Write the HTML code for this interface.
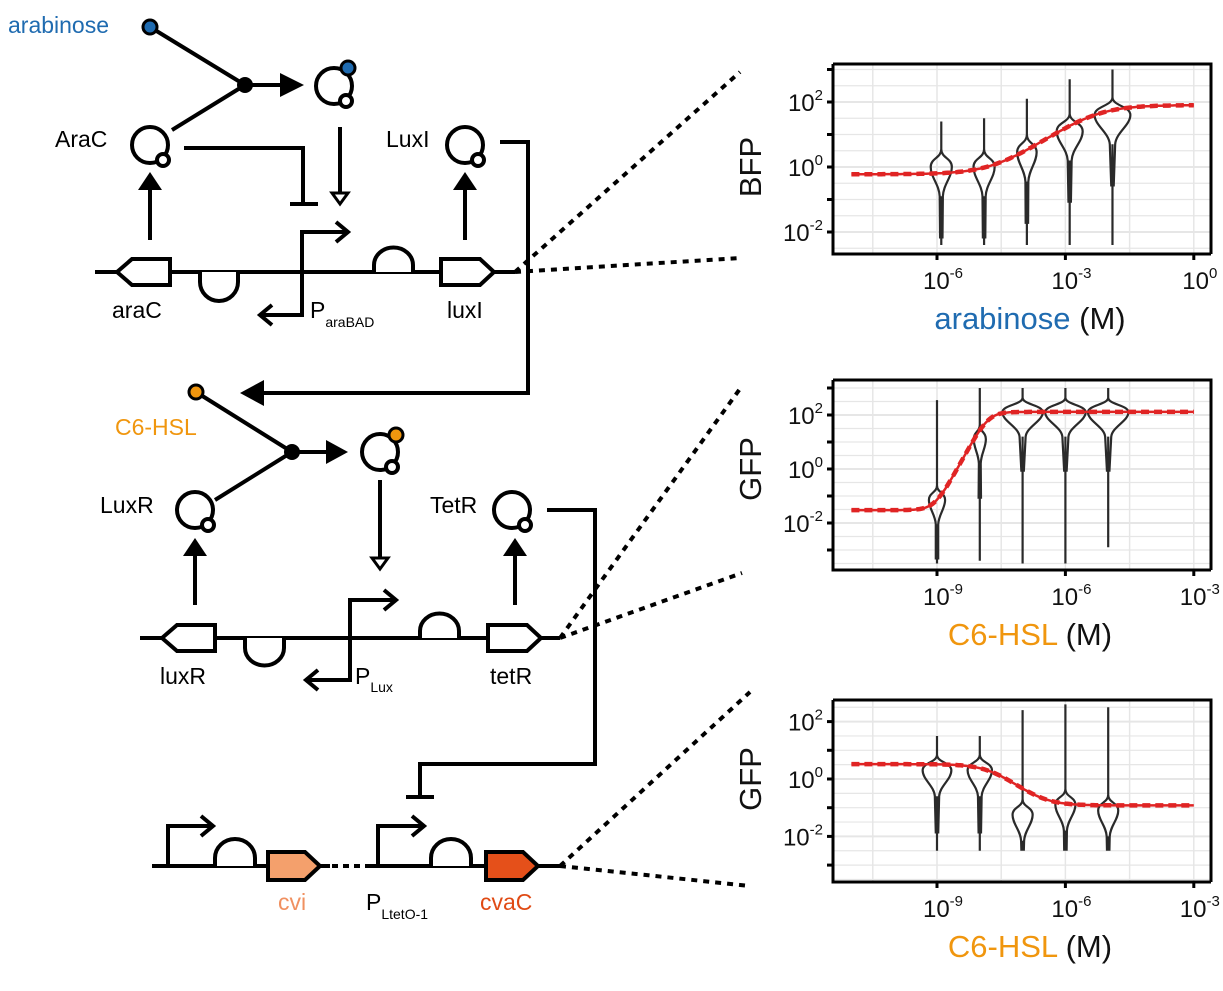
<!DOCTYPE html>
<html><head><meta charset="utf-8"><style>
html,body{margin:0;padding:0;background:#fff;}
svg{display:block;font-family:"Liberation Sans",Arial,sans-serif;}
</style></head><body>
<svg id="fig" width="1223" height="991" viewBox="0 0 1223 991">
<g stroke="#000" stroke-width="4" fill="none" stroke-linecap="butt">
 <text x="8" y="33" font-size="23" fill="#1f6bb0" stroke="none">arabinose</text>
 <line x1="150" y1="27" x2="245" y2="85"/>
 <line x1="172" y1="130" x2="245" y2="85"/>
 <circle cx="150" cy="27" r="7" fill="#1f6bb0" stroke-width="3"/>
 <circle cx="245" cy="85" r="8" fill="#000" stroke="none"/>
 <line x1="245" y1="85" x2="290" y2="85"/>
 <path d="M280,73 L304,85 L280,97 z" fill="#000" stroke="none"/>
 <g><circle cx="334" cy="86" r="18"/><circle cx="346" cy="101" r="6" fill="#fff"/><circle cx="348" cy="68" r="7" fill="#1f6bb0" stroke-width="3"/></g>
 <g><circle cx="150" cy="145" r="18"/><circle cx="163" cy="160" r="6" fill="#fff"/></g>
 <text x="55" y="147" font-size="23" fill="#000" stroke="none">AraC</text>
 <g><circle cx="465" cy="145" r="18"/><circle cx="478" cy="160" r="6" fill="#fff"/></g>
 <text x="386" y="147" font-size="23" fill="#000" stroke="none">LuxI</text>
 <line x1="150" y1="240" x2="150" y2="190"/>
 <path d="M138,190 L150,172 L162,190 z" fill="#000" stroke="none"/>
 <line x1="465" y1="240" x2="465" y2="190"/>
 <path d="M453,190 L465,172 L477,190 z" fill="#000" stroke="none"/>
 <path d="M184,148 L303,148 L303,204 M290,204 L318,204"/>
 <path d="M340,127 L340,193"/>
 <path d="M332,193 L348,193 L340,204 z" fill="#fff" stroke-width="3"/>
 <line x1="95" y1="272" x2="515" y2="272"/>
 <path d="M170,259 L132,259 L117,272 L132,285 L170,285 z" fill="#fff"/>
 <path d="M200,272 L200,282 A14,14 0 0 0 238,282 L238,272" fill="#fff"/>
 <path d="M302,272 L302,232 L345,232"/>
 <path d="M336,222 L348,232 L336,242"/>
 <path d="M302,272 L302,315 L262,315 M272,305 L260,315 L272,325"/>
 <path d="M374,272 L374,265 A19,17 0 0 1 413,265 L413,272" fill="#fff"/>
 <path d="M441,259 L480,259 L494,272 L480,285 L441,285 z" fill="#fff"/>
 <text x="112" y="318" font-size="23" fill="#000" stroke="none">araC</text>
 <text x="310" y="318" font-size="23" fill="#000" stroke="none">P<tspan font-size="14" dy="9">araBAD</tspan></text>
 <text x="447" y="318" font-size="23" fill="#000" stroke="none">luxI</text>
 <path d="M500,142 L528,142 L528,393 L262,393"/>
 <path d="M264,380 L240,393 L264,406 z" fill="#000" stroke="none"/>
 <line x1="196" y1="392" x2="292" y2="452"/>
 <line x1="215" y1="500" x2="292" y2="452"/>
 <circle cx="196" cy="392" r="7" fill="#f0960e" stroke-width="3"/>
 <text x="115" y="435" font-size="23" fill="#f0960e" stroke="none">C6-HSL</text>
 <circle cx="292" cy="452" r="8" fill="#000" stroke="none"/>
 <line x1="292" y1="452" x2="335" y2="452"/>
 <path d="M326,440 L348,452 L326,464 z" fill="#000" stroke="none"/>
 <g><circle cx="380" cy="452" r="18"/><circle cx="392" cy="467" r="6" fill="#fff"/><circle cx="396" cy="435" r="7" fill="#f0960e" stroke-width="3"/></g>
 <g><circle cx="195" cy="510" r="18"/><circle cx="208" cy="525" r="6" fill="#fff"/></g>
 <text x="100" y="513" font-size="23" fill="#000" stroke="none">LuxR</text>
 <g><circle cx="512" cy="510" r="18"/><circle cx="525" cy="525" r="6" fill="#fff"/></g>
 <text x="430" y="513" font-size="23" fill="#000" stroke="none">TetR</text>
 <line x1="380" y1="480" x2="380" y2="558"/>
 <path d="M372,558 L388,558 L380,569 z" fill="#fff" stroke-width="3"/>
 <line x1="195" y1="605" x2="195" y2="556"/>
 <path d="M183,556 L195,538 L207,556 z" fill="#000" stroke="none"/>
 <line x1="515" y1="605" x2="515" y2="556"/>
 <path d="M503,556 L515,538 L527,556 z" fill="#000" stroke="none"/>
 <line x1="140" y1="638" x2="560" y2="638"/>
 <path d="M215,625 L177,625 L162,638 L177,651 L215,651 z" fill="#fff"/>
 <path d="M245,638 L245,648 A19,17 0 0 0 284,648 L284,638" fill="#fff"/>
 <path d="M350,638 L350,600 L393,600"/>
 <path d="M384,590 L396,600 L384,610"/>
 <path d="M350,638 L350,680 L308,680 M318,670 L306,680 L318,690"/>
 <path d="M420,638 L420,631 A19,17 0 0 1 459,631 L459,638" fill="#fff"/>
 <path d="M488,625 L527,625 L541,638 L527,651 L488,651 z" fill="#fff"/>
 <text x="160" y="684" font-size="23" fill="#000" stroke="none">luxR</text>
 <text x="355" y="684" font-size="23" fill="#000" stroke="none">P<tspan font-size="14" dy="8">Lux</tspan></text>
 <text x="490" y="684" font-size="23" fill="#000" stroke="none">tetR</text>
 <path d="M547,510 L595,510 L595,764 L420,764 L420,797 M406,797 L434,797"/>
 <line x1="152" y1="866" x2="330" y2="866"/>
 <line x1="332" y1="866" x2="365" y2="866" stroke-dasharray="6,5"/>
 <line x1="365" y1="866" x2="560" y2="866"/>
 <path d="M168,866 L168,826 L210,826"/>
 <path d="M201,816 L213,826 L201,836"/>
 <path d="M215,866 L215,858 A20,19 0 0 1 255,858 L255,866" fill="#fff"/>
 <path d="M268,852 L305,852 L320,866 L305,880 L268,880 z" fill="#f4a06c"/>
 <path d="M378,866 L378,826 L421,826"/>
 <path d="M412,816 L424,826 L412,836"/>
 <path d="M431,866 L431,858 A20,19 0 0 1 471,858 L471,866" fill="#fff"/>
 <path d="M486,852 L523,852 L538,866 L523,880 L486,880 z" fill="#e5501a"/>
 <text x="278" y="910" font-size="23" fill="#f09060" stroke="none">cvi</text>
 <text x="366" y="910" font-size="23" fill="#000" stroke="none">P<tspan font-size="14" dy="9">LtetO-1</tspan></text>
 <text x="480" y="910" font-size="23" fill="#e04a14" stroke="none">cvaC</text>
 <g stroke-dasharray="6,6">
  <line x1="515" y1="272" x2="740" y2="72"/><line x1="515" y1="272" x2="740" y2="258"/>
  <line x1="560" y1="638" x2="742" y2="386"/><line x1="560" y1="638" x2="742" y2="573"/>
  <line x1="560" y1="866" x2="750" y2="692"/><line x1="560" y1="866" x2="750" y2="886"/>
 </g>
</g>
<g id="charts"></g>
</svg>
<script>
const violinLogX1 = [-5.9, -4.9, -3.9, -2.9, -1.9];
const violinTop1 = [1.4, 1.5, 2.1, 2.7, 3.0];
const violinBot1 = [-2.4, -2.4, -2.4, -2.4, -2.4];
const violinMid1 = [0.0, 0.0, 0.45, 1.1, 1.6];
const violinWid1 = [0.65, 0.65, 0.6, 0.8, 1.1];
const fitBottom1 = [0.6], fitTop1 = [80], fitLogEC1 = [-2.3], fitHill1 = [0.9];

const violinLogX2 = [-9, -8, -7, -6, -5];
const violinTop2 = [2.55, 3.0, 3.0, 3.0, 3.0];
const violinBot2 = [-3.5, -3.4, -3.5, -3.5, -2.9];
const violinMid2 = [-1.15, 1.1, 2.1, 2.1, 2.1];
const violinWid2 = [0.6, 0.45, 1.5, 1.5, 1.5];
const fitBottom2 = [0.03], fitTop2 = [130], fitLogEC2 = [-7.8], fitHill2 = [2.9];

const violinLogX3 = [-9, -8, -7, -6, -5];
const violinTop3 = [1.5, 1.5, 2.4, 2.6, 2.5];
const violinBot3 = [-2.5, -2.5, -2.5, -2.5, -2.5];
const violinMid3 = [0.3, 0.3, -1.25, -0.9, -1.1];
const violinWid3 = [1.0, 0.85, 0.7, 0.7, 0.7];
const fitBottom3 = [3.3], fitTop3 = [0.12], fitLogEC3 = [-7.7], fitHill3 = [1.3];

const yTickLogs = [2, 0, -2];
const xTickLabels1 = ["-6", "-3", "0"];
const xTickLogs1 = [-6, -3, 0];
const xTickLabels2 = ["-9", "-6", "-3"];
const xTickLogs2 = [-9, -6, -3];

const NS = "http://www.w3.org/2000/svg";
const root = document.getElementById('charts');
function mk(tag, attrs, parent){const e=document.createElementNS(NS,tag);for(const k in attrs)e.setAttribute(k,attrs[k]);(parent||root).appendChild(e);return e;}

function chart(cfg){
  const g = mk('g',{});
  
  
  const X = v => cfg.x0 + (v - cfg.xl0) * cfg.xs;
  const Y = v => cfg.y0 - v * cfg.ys;
  const grid = mk('g',{stroke:'#e6e6e6','stroke-width':1.5},g);
  
  
  for(let v=cfg.gxMin; v<=cfg.gxMax; v+=1.5){const x=X(v); if(x>cfg.L&&x<cfg.R) mk('line',{x1:x,x2:x,y1:cfg.T,y2:cfg.B},grid);}
  for(let v=-4; v<=4; v+=0.5){const y=Y(v); if(y>cfg.T&&y<cfg.B) mk('line',{x1:cfg.L,x2:cfg.R,y1:y,y2:y,'stroke-width':(v%2===0)?2:1.2},grid);}
  const frame = mk('path',{d:`M${cfg.L},${cfg.T} L${cfg.R},${cfg.T} L${cfg.R},${cfg.B} M${cfg.L},${cfg.T} L${cfg.L},${cfg.B} L${cfg.R},${cfg.B}`,fill:'none',stroke:'#000','stroke-width':3},g);
  
  
  for(let v=-3; v<=3; v+=1){const y=Y(v); if(y>=cfg.T-2&&y<=cfg.B) mk('line',{x1:cfg.L-6,x2:cfg.L,y1:y,y2:y,stroke:'#000','stroke-width':3},g);}
  yTickLogs.forEach(v=>{
    const t=mk('text',{x:cfg.L-10,y:Y(v)+9,'font-size':24,'text-anchor':'end',fill:'#111'},g);
    
    
    t.innerHTML=`10<tspan font-size="15" dy="-11">${v}</tspan>`;
  });
  cfg.xTicks.forEach((v,i)=>{
    const x=X(v);
    mk('line',{x1:x,x2:x,y1:cfg.B,y2:cfg.B+6,stroke:'#000','stroke-width':3},g);
    const t=mk('text',{x:x+6,y:cfg.B+35,'font-size':24,'text-anchor':'middle',fill:'#111'},g);
    
    
    t.innerHTML=`10<tspan font-size="15" dy="-11">${cfg.xLabels[i]}</tspan>`;
  });
  cfg.vx.forEach((lx,i)=>{
    const x=X(lx), yt=Y(cfg.vt[i]), yb=Y(cfg.vb[i]), yc=Y(cfg.vm[i]);
    const hw=cfg.vw[i]*cfg.ys*0.5, up=cfg.ys*0.55, dn=cfg.ys*0.9;
    const y1=yc-up, y2=yc+dn;
    const side = s => `M${x},${y1} C${x},${yc-up*0.5} ${x+s*hw},${yc-up*0.5} ${x+s*hw},${yc} C${x+s*hw},${yc+dn*0.35} ${x+s*hw*0.2},${yc+dn*0.6} ${x+s*hw*0.15},${y2} L${x+s*1.2},${Math.min(yb,y2+cfg.ys*1.3)}`;
    const d=`M${x},${yt} L${x},${y1} ${side(1)} ${side(-1)} M${x},${y2} L${x},${yb}`;
    const p=mk('path',{d,fill:'none',stroke:'#2a2a2a','stroke-width':2.2},g);
    
    
  });
  let d='';
  for(let lx=cfg.cx0; lx<=cfg.cx1+1e-9; lx+=0.05){
    const val=cfg.fb + (cfg.ft-cfg.fb)/(1+Math.pow(10,(cfg.fe-lx)*cfg.fh));
    d+=(d?'L':'M')+X(lx).toFixed(1)+','+Y(Math.log10(val)).toFixed(1);
  }
  const c1=mk('path',{d,fill:'none',stroke:'#e02424','stroke-width':2.5},g);
  
  
  const c2=mk('path',{d,fill:'none',stroke:'#e02424','stroke-width':4.5,'stroke-dasharray':'8,5'},g);
  
  
  const yt=mk('text',{x:0,y:0,'font-size':31,'text-anchor':'middle',fill:'#111',transform:`translate(${cfg.L-72},${cfg.y0}) rotate(-90)`},g);
  
  
  yt.textContent=cfg.yTitle;
  const xt=mk('text',{x:1030,y:cfg.B+75,'font-size':31,'text-anchor':'middle',fill:'#111'},g);
  
  
  xt.innerHTML=`<tspan fill="${cfg.xColor}">${cfg.xTitle}</tspan> (M)`;
}

chart({name:'bfp-arabinose-chart',L:833,R:1211,T:64,B:254,x0:937,xl0:-6,xs:42.8,y0:167,ys:32.5,
  gxMin:-9,gxMax:1.5,xTicks:xTickLogs1,xLabels:xTickLabels1,
  vx:violinLogX1,vt:violinTop1,vb:violinBot1,vm:violinMid1,vw:violinWid1,
  fb:fitBottom1[0],ft:fitTop1[0],fe:fitLogEC1[0],fh:fitHill1[0],cx0:-8,cx1:0,
  yTitle:'BFP',xTitle:'arabinose',xColor:'#1f6bb0'});
chart({name:'gfp-c6hsl-chart-1',L:833,R:1211,T:380,B:570,x0:937,xl0:-9,xs:42.8,y0:469,ys:27,
  gxMin:-12,gxMax:-1.5,xTicks:xTickLogs2,xLabels:xTickLabels2,
  vx:violinLogX2,vt:violinTop2,vb:violinBot2,vm:violinMid2,vw:violinWid2,
  fb:fitBottom2[0],ft:fitTop2[0],fe:fitLogEC2[0],fh:fitHill2[0],cx0:-11,cx1:-3,
  yTitle:'GFP',xTitle:'C6-HSL',xColor:'#f0960e'});
chart({name:'gfp-c6hsl-chart-2',L:833,R:1211,T:700,B:882,x0:937,xl0:-9,xs:42.8,y0:779,ys:28.7,
  gxMin:-12,gxMax:-1.5,xTicks:xTickLogs2,xLabels:xTickLabels2,
  vx:violinLogX3,vt:violinTop3,vb:violinBot3,vm:violinMid3,vw:violinWid3,
  fb:fitBottom3[0],ft:fitTop3[0],fe:fitLogEC3[0],fh:fitHill3[0],cx0:-11,cx1:-3,
  yTitle:'GFP',xTitle:'C6-HSL',xColor:'#f0960e'});
</script>
</body></html>
